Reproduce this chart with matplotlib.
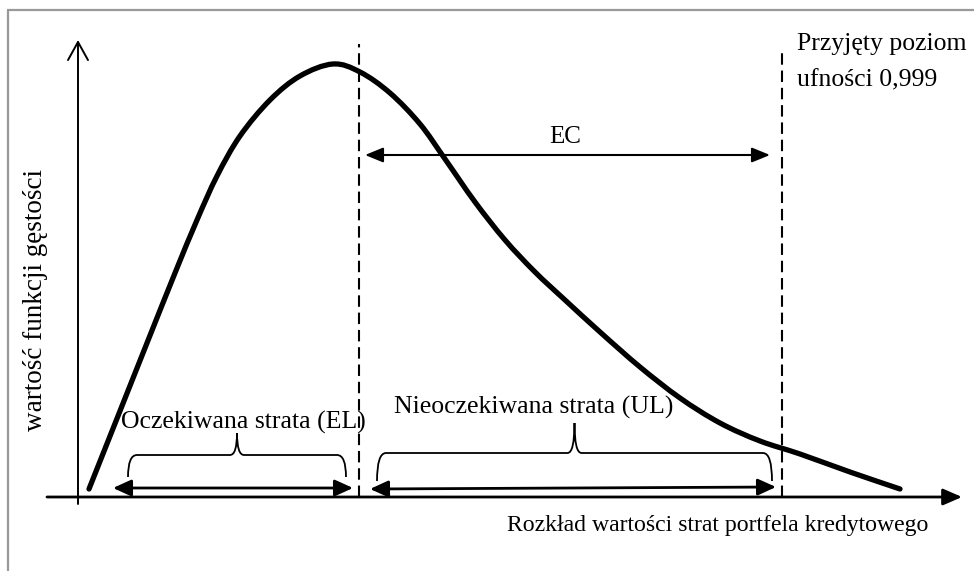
import matplotlib
matplotlib.use("Agg")
import matplotlib.pyplot as plt
import numpy as np
from matplotlib.path import Path
from matplotlib.patches import PathPatch

# ---- data (loss value vs. density) ----
loss = [11, 40, 69, 97, 119, 139, 162, 192, 222, 255, 282, 312, 342, 367,
        397, 427, 457, 487, 522, 562, 602, 642, 682, 722, 772, 822]
density = [8, 81, 154, 224, 277, 321, 361, 397, 421, 433, 425, 404, 373, 338,
           295, 257, 225, 197, 165, 130, 99, 74, 56, 43, 25, 8]
expected_loss = 281      # EL position (dashed line)
var_999 = 704            # quantile 0.999 (dashed line)

txt_el = "Oczekiwana strata (EL)"
txt_ul = "Nieoczekiwana strata (UL)"
txt_ec = "EC"
txt_x = "Rozkład wartości strat portfela kredytowego"
txt_y = "wartość funkcji gęstości"
txt_q1 = "Przyjęty poziom"
txt_q2 = "ufności 0,999"

FONT = "Liberation Serif"

fig = plt.figure(figsize=(9.74, 5.71), dpi=100)
ax = fig.add_axes([0, 0, 1, 1])
ax.set_xlim(-78, 896)
ax.set_ylim(-74, 497)
ax.axis("off")

# frame (gray, only left and top visible)
ax.plot([-70, -70], [-80, 487], color="#999999", lw=1.6, solid_capstyle="butt")
ax.plot([-71, 900], [487, 487], color="#999999", lw=1.6, solid_capstyle="butt")

# axes arrows
ax.annotate("", xy=(0, 457), xytext=(0, -7),
            arrowprops=dict(arrowstyle="->,head_length=1.3,head_width=0.72",
                            lw=1.4, color="black", shrinkA=0, shrinkB=0,
                            mutation_scale=10))
ax.annotate("", xy=(884, 0), xytext=(-31, 0),
            arrowprops=dict(arrowstyle="-|>,head_length=1.15,head_width=0.5",
                            lw=2.0, color="black", shrinkA=0, shrinkB=0,
                            mutation_scale=10))

# density curve drawn as a smooth path through the read points (Catmull-Rom)
P = np.column_stack([loss, density]).astype(float)
ext = np.vstack([2 * P[0] - P[1], P, 2 * P[-1] - P[-2]])
verts = [tuple(P[0])]
codes = [Path.MOVETO]
for i in range(1, len(ext) - 2):
    p0, p1, p2, p3 = ext[i - 1], ext[i], ext[i + 1], ext[i + 2]
    c1 = p1 + (p2 - p0) / 6.0
    c2 = p2 - (p3 - p1) / 6.0
    verts += [tuple(c1), tuple(c2), tuple(p2)]
    codes += [Path.CURVE4] * 3
ax.add_patch(PathPatch(Path(verts, codes), fill=False, lw=3.8,
                       edgecolor="black", capstyle="round", joinstyle="round",
                       zorder=3))

# dashed lines
ax.plot([expected_loss, expected_loss], [0, 453], color="black", lw=1.5,
        linestyle=(0, (5.5, 2.8)))
ax.plot([var_999, var_999], [0, 444], color="black", lw=1.5,
        linestyle=(0, (5.5, 2.8)))

# EC arrow
ax.annotate("", xy=(var_999 - 12, 342), xytext=(expected_loss + 6, 342),
            arrowprops=dict(arrowstyle="<|-|>,head_length=1.1,head_width=0.45",
                            lw=1.5, color="black", shrinkA=0, shrinkB=0,
                            mutation_scale=10))
# EL and UL arrows
ax.annotate("", xy=(expected_loss - 6, 9), xytext=(35, 9),
            arrowprops=dict(arrowstyle="<|-|>,head_length=1.1,head_width=0.5",
                            lw=2.0, color="black", shrinkA=0, shrinkB=0,
                            mutation_scale=10))
ax.annotate("", xy=(var_999 - 6, 10), xytext=(expected_loss + 11, 8),
            arrowprops=dict(arrowstyle="<|-|>,head_length=1.1,head_width=0.5",
                            lw=2.0, color="black", shrinkA=0, shrinkB=0,
                            mutation_scale=10))


def brace(x0, x1, yb, yt, ytip, r=9, tr=7):
    xm = (x0 + x1) / 2
    v = [(x0, yb), (x0, yt), (x0 + r, yt),
         (xm - tr, yt),
         (xm, yt), (xm, ytip),
         (xm, yt), (xm + tr, yt),
         (x1 - r, yt),
         (x1, yt), (x1, yb)]
    c = [Path.MOVETO, Path.CURVE3, Path.CURVE3,
         Path.LINETO,
         Path.CURVE3, Path.CURVE3,
         Path.CURVE3, Path.CURVE3,
         Path.LINETO,
         Path.CURVE3, Path.CURVE3]
    ax.add_patch(PathPatch(Path(v, c), fill=False, lw=1.3, edgecolor="black"))


brace(50, expected_loss - 13, 20, 42, 64)
brace(expected_loss + 18, var_999 - 10, 16, 44, 74)

# texts
ax.text(165, 68, txt_el, fontsize=18.5, family=FONT, ha="center", va="baseline")
ax.text(456, 83, txt_ul, fontsize=18.5, family=FONT, ha="center", va="baseline")
ax.text(471, 354, txt_ec, fontsize=18, family=FONT, ha="left", va="baseline")
ax.text(429, -34, txt_x, fontsize=17.1, family=FONT, ha="left", va="baseline")
ax.text(-36, 197, txt_y, fontsize=19.5, family=FONT, ha="center", va="baseline",
        rotation=90, rotation_mode="anchor")
ax.text(719, 447, txt_q1, fontsize=18.5, family=FONT, ha="left", va="baseline")
ax.text(719, 411, txt_q2, fontsize=18.5, family=FONT, ha="left", va="baseline")

fig.savefig("out.png", dpi=100)
